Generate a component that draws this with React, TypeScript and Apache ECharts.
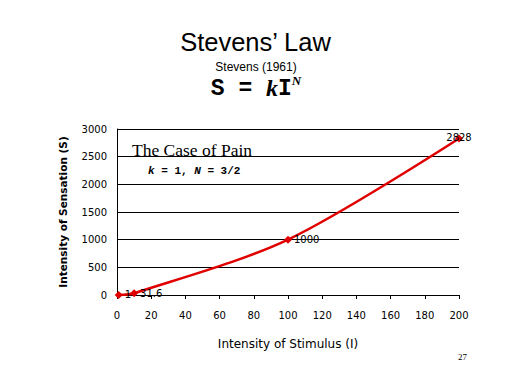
import React, { useEffect, useRef } from "react";
import * as echarts from "echarts";

const stimulus = [1, 10, 100, 200];
const sensation = [1, 31.6, 1000, 2828];
const pointLabels = ["1", "31.6", "1000", "2828"];

const AX_FONT = "DejaVu Sans";

export default function App() {
  const ref = useRef<HTMLDivElement>(null);
  useEffect(() => {
    const chart = echarts.init(ref.current!, null, { renderer: "svg" });
    const data = stimulus.map((x, i) => ({
      value: [x, sensation[i]],
      label:
        i === 3
          ? { show: true, position: "inside", offset: [0, -1] }
          : { show: true, position: "right", distance: 2 },
    }));
    chart.setOption({
      animation: false,
      backgroundColor: "#fff",
      grid: { left: 117, right: 53, top: 129, bottom: 89 },
      xAxis: {
        type: "value",
        min: 0,
        max: 200,
        interval: 20,
        name: "Intensity of Stimulus (I)",
        nameLocation: "middle",
        nameGap: 43,
        nameTextStyle: { fontFamily: AX_FONT, fontSize: 12, color: "#000" },
        axisLine: { lineStyle: { color: "#000", width: 1 } },
        axisTick: { show: true, length: 4, lineStyle: { color: "#000" } },
        axisLabel: { fontFamily: AX_FONT, fontSize: 10, color: "#000", margin: 15, formatter: (v: number) => String(v) },
        splitLine: { show: false },
      },
      yAxis: {
        type: "value",
        min: 0,
        max: 3000,
        interval: 500,
        name: "Intensity of Sensation (S)",
        nameLocation: "middle",
        nameGap: 49,
        nameTextStyle: { fontFamily: AX_FONT, fontSize: 10.5, fontWeight: "bold", color: "#000" },
        axisLine: { show: true, lineStyle: { color: "#000", width: 1 } },
        axisTick: { show: false },
        axisLabel: { fontFamily: AX_FONT, fontSize: 10, color: "#000", margin: 10, formatter: (v: number) => String(v) },
        splitLine: { lineStyle: { color: "#000", width: 1 } },
      },
      series: [
        {
          type: "line",
          data,
          smooth: 0.3,
          symbol: "diamond",
          symbolSize: 8,
          itemStyle: { color: "#e00000" },
          lineStyle: { color: "#e00000", width: 2.5 },
          label: {
            formatter: (p: any) => pointLabels[p.dataIndex],
            fontFamily: AX_FONT,
            fontSize: 10,
            color: "#000",
          },
        },
      ],
      graphic: [
        {
          type: "text",
          left: "center",
          top: 29,
          style: { text: "Stevens\u2019 Law", font: "25.5px 'Liberation Sans'", fill: "#000" },
        },
        {
          type: "text",
          left: "center",
          top: 61,
          style: { text: "Stevens (1961)", font: "12px 'Liberation Sans'", fill: "#000" },
        },
        {
          type: "text",
          left: "center",
          top: 74,
          style: {
            text: "{a|S = }{k|k}{a|I}{n|N}",
            rich: {
              a: { fontFamily: "Liberation Mono", fontSize: 23, fontWeight: "bold", fill: "#000", verticalAlign: "bottom", lineHeight: 26 },
              k: { fontFamily: "Liberation Serif", fontSize: 24, fontWeight: "bold", fontStyle: "italic", fill: "#000", verticalAlign: "bottom", lineHeight: 26 },
              n: { fontFamily: "Liberation Serif", fontSize: 13, fontWeight: "bold", fontStyle: "italic", fill: "#000", verticalAlign: "top", lineHeight: 26 },
            },
          },
        },
        {
          type: "text",
          left: 132,
          top: 141,
          style: { text: "The Case of Pain", font: "17.5px 'Liberation Serif'", fill: "#000" },
        },
        {
          type: "text",
          left: 148,
          top: 165,
          style: {
            text: "{k|k}{a| = 1, }{k|N}{a| = 3/2}",
            rich: {
              a: { fontFamily: "Liberation Mono", fontSize: 11, fontWeight: "bold", fill: "#000" },
              k: { fontFamily: "Liberation Mono", fontSize: 11, fontWeight: "bold", fontStyle: "italic", fill: "#000" },
            },
          },
        },
        {
          type: "text",
          left: 458,
          top: 352,
          style: { text: "27", font: "9px 'Liberation Serif'", fill: "#000" },
        },
      ],
    });
    return () => chart.dispose();
  }, []);
  return <div ref={ref} style={{ width: 512, height: 384, position: "absolute", left: 0, top: 0 }} />;
}
